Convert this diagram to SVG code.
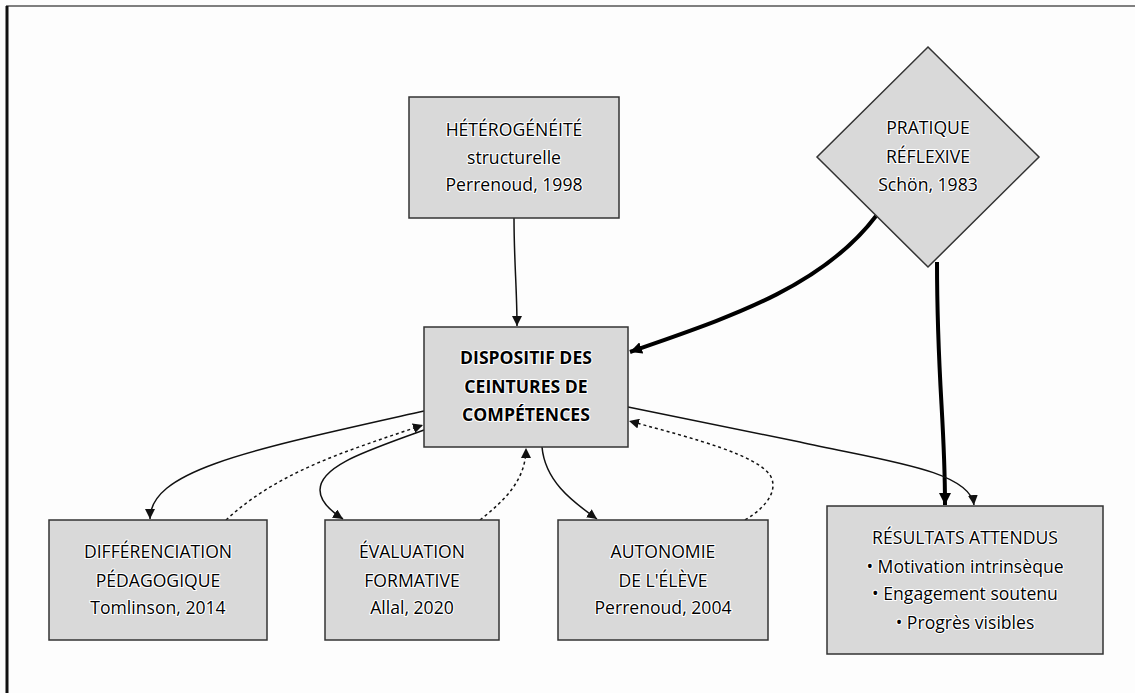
<svg xmlns="http://www.w3.org/2000/svg" width="1135" height="693" viewBox="0 0 1135 693">
<style>
.node{fill:#d9d9d9;stroke:#333;stroke-width:1.5}
.t{font-family:"Open Sans","Liberation Sans",sans-serif;font-size:17.6px;fill:#000;text-anchor:middle;stroke:#fff;stroke-width:2.2px;paint-order:stroke;stroke-linejoin:round}
.b{font-weight:bold}
.c{fill:none;stroke:#111;stroke-width:1.5}
.d{stroke-dasharray:3,3}
.k{fill:none;stroke:#000;stroke-width:4}
</style>
<defs>
<marker id="a" viewBox="0 0 10 10" refX="10" refY="5" markerWidth="10" markerHeight="10" markerUnits="userSpaceOnUse" orient="auto"><path d="M0,0 L10,5 L0,10 z" fill="#111"/></marker>
<marker id="ak" viewBox="0 0 10 10" refX="10" refY="5" markerWidth="12" markerHeight="12" markerUnits="userSpaceOnUse" orient="auto"><path d="M0,0 L10,5 L0,10 z" fill="#000"/></marker>
</defs>
<rect x="0" y="0" width="1135" height="693" fill="#fdfdfd"/>
<line x1="6" y1="6" x2="1135" y2="6" stroke="#555" stroke-width="1.5"/>
<line x1="7" y1="6" x2="7" y2="693" stroke="#111" stroke-width="3"/>
<g id="connectors">
<path class="c" d="M514,218 C514,260 517,290 517,326" marker-end="url(#a)"/>
<path class="k" d="M876,216 C820,290 720,320 630,352" marker-end="url(#ak)"/>
<path class="k" d="M937,262 C937,380 945,420 945,505" marker-end="url(#ak)"/>
<path class="c" d="M424,411 C250,450 150,470 150,519" marker-end="url(#a)"/>
<path class="c d" d="M226,520 C280,470 350,450 423,425" marker-end="url(#a)"/>
<path class="c" d="M424,430 C370,450 320,465 320,490 C320,502 332,512 343,519" marker-end="url(#a)"/>
<path class="c d" d="M480,520 C505,500 526,480 526,448" marker-end="url(#a)"/>
<path class="c" d="M542,447 C545,480 570,500 597,519" marker-end="url(#a)"/>
<path class="c d" d="M745,520 C770,505 778,488 770,475 C755,455 700,440 629,421" marker-end="url(#a)"/>
<path class="c" d="M628,407 L800,442 C880,460 970,470 974,505" marker-end="url(#a)"/>
</g>
<g id="heterogeneite">
<rect class="node" x="409" y="97" width="210" height="121"/>
<text class="t" x="514" y="136">HÉTÉROGÉNÉITÉ</text>
<text class="t" x="514" y="164">structurelle</text>
<text class="t" x="514" y="191">Perrenoud, 1998</text>
</g>
<g id="pratique">
<polygon class="node" points="928,47 1039,157 928,267 817,157"/>
<text class="t" x="928" y="134">PRATIQUE</text>
<text class="t" x="928" y="163">RÉFLEXIVE</text>
<text class="t" x="928" y="191">Schön, 1983</text>
</g>
<g id="dispositif">
<rect class="node" x="424" y="327" width="204" height="120"/>
<text class="t b" x="526" y="364">DISPOSITIF DES</text>
<text class="t b" x="526" y="393">CEINTURES DE</text>
<text class="t b" x="526" y="421">COMPÉTENCES</text>
</g>
<g id="differenciation">
<rect class="node" x="49" y="520" width="218" height="120"/>
<text class="t" x="158" y="558">DIFFÉRENCIATION</text>
<text class="t" x="158" y="587">PÉDAGOGIQUE</text>
<text class="t" x="158" y="614">Tomlinson, 2014</text>
</g>
<g id="evaluation">
<rect class="node" x="325" y="520" width="174" height="120"/>
<text class="t" x="412" y="558">ÉVALUATION</text>
<text class="t" x="412" y="587">FORMATIVE</text>
<text class="t" x="412" y="614">Allal, 2020</text>
</g>
<g id="autonomie">
<rect class="node" x="558" y="520" width="210" height="120"/>
<text class="t" x="663" y="558">AUTONOMIE</text>
<text class="t" x="663" y="587">DE L'ÉLÈVE</text>
<text class="t" x="663" y="614">Perrenoud, 2004</text>
</g>
<g id="resultats">
<rect class="node" x="827" y="506" width="276" height="148"/>
<text class="t" x="965" y="544">RÉSULTATS ATTENDUS</text>
<text class="t" x="965" y="573">• Motivation intrinsèque</text>
<text class="t" x="965" y="600">• Engagement soutenu</text>
<text class="t" x="965" y="629">• Progrès visibles</text>
</g>
</svg>
